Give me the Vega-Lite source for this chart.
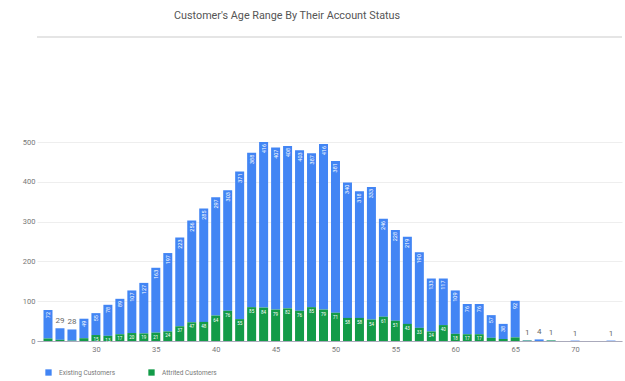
{
  "$schema": "https://vega.github.io/schema/vega-lite/v6.json",
  "autosize": "none",
  "width": 585,
  "height": 199,
  "padding": {"left": 37, "top": 142, "right": 3, "bottom": 40},
  "background": "white",
  "config": {
    "view": {"stroke": null},
    "font": "Roboto",
    "axis": {"labelFont": "Roboto", "labelColor": "#777", "labelFontSize": 7.5, "ticks": false},
    "axisY": {"title": null, "values": [0, 100, 200, 300, 400, 500], "domain": false, "grid": true, "gridColor": "#eeeeee", "labelPadding": 2, "labelOverlap": false}
  },
  "title": {
    "text": "Customer's Age Range By Their Account Status",
    "anchor": "start",
    "frame": "group",
    "dx": 137,
    "offset": 16,
    "fontSize": 10.8,
    "fontWeight": "normal",
    "color": "#555",
    "font": "Roboto"
  },
  "data": {
    "values": [
      {"age": 26, "status": "Existing Customers", "count": 72}, {"age": 26, "status": "Attrited Customers", "count": 6},
      {"age": 27, "status": "Existing Customers", "count": 29}, {"age": 27, "status": "Attrited Customers", "count": 3},
      {"age": 28, "status": "Existing Customers", "count": 28}, {"age": 28, "status": "Attrited Customers", "count": 1},
      {"age": 29, "status": "Existing Customers", "count": 49}, {"age": 29, "status": "Attrited Customers", "count": 7},
      {"age": 30, "status": "Existing Customers", "count": 55}, {"age": 30, "status": "Attrited Customers", "count": 15},
      {"age": 31, "status": "Existing Customers", "count": 78}, {"age": 31, "status": "Attrited Customers", "count": 13},
      {"age": 32, "status": "Existing Customers", "count": 89}, {"age": 32, "status": "Attrited Customers", "count": 17},
      {"age": 33, "status": "Existing Customers", "count": 107}, {"age": 33, "status": "Attrited Customers", "count": 20},
      {"age": 34, "status": "Existing Customers", "count": 127}, {"age": 34, "status": "Attrited Customers", "count": 19},
      {"age": 35, "status": "Existing Customers", "count": 163}, {"age": 35, "status": "Attrited Customers", "count": 21},
      {"age": 36, "status": "Existing Customers", "count": 197}, {"age": 36, "status": "Attrited Customers", "count": 24},
      {"age": 37, "status": "Existing Customers", "count": 223}, {"age": 37, "status": "Attrited Customers", "count": 37},
      {"age": 38, "status": "Existing Customers", "count": 256}, {"age": 38, "status": "Attrited Customers", "count": 47},
      {"age": 39, "status": "Existing Customers", "count": 285}, {"age": 39, "status": "Attrited Customers", "count": 48},
      {"age": 40, "status": "Existing Customers", "count": 297}, {"age": 40, "status": "Attrited Customers", "count": 64},
      {"age": 41, "status": "Existing Customers", "count": 303}, {"age": 41, "status": "Attrited Customers", "count": 76},
      {"age": 42, "status": "Existing Customers", "count": 371}, {"age": 42, "status": "Attrited Customers", "count": 55},
      {"age": 43, "status": "Existing Customers", "count": 388}, {"age": 43, "status": "Attrited Customers", "count": 85},
      {"age": 44, "status": "Existing Customers", "count": 416}, {"age": 44, "status": "Attrited Customers", "count": 84},
      {"age": 45, "status": "Existing Customers", "count": 407}, {"age": 45, "status": "Attrited Customers", "count": 79},
      {"age": 46, "status": "Existing Customers", "count": 408}, {"age": 46, "status": "Attrited Customers", "count": 82},
      {"age": 47, "status": "Existing Customers", "count": 403}, {"age": 47, "status": "Attrited Customers", "count": 76},
      {"age": 48, "status": "Existing Customers", "count": 387}, {"age": 48, "status": "Attrited Customers", "count": 85},
      {"age": 49, "status": "Existing Customers", "count": 416}, {"age": 49, "status": "Attrited Customers", "count": 79},
      {"age": 50, "status": "Existing Customers", "count": 381}, {"age": 50, "status": "Attrited Customers", "count": 71},
      {"age": 51, "status": "Existing Customers", "count": 340}, {"age": 51, "status": "Attrited Customers", "count": 58},
      {"age": 52, "status": "Existing Customers", "count": 318}, {"age": 52, "status": "Attrited Customers", "count": 58},
      {"age": 53, "status": "Existing Customers", "count": 333}, {"age": 53, "status": "Attrited Customers", "count": 54},
      {"age": 54, "status": "Existing Customers", "count": 246}, {"age": 54, "status": "Attrited Customers", "count": 61},
      {"age": 55, "status": "Existing Customers", "count": 228}, {"age": 55, "status": "Attrited Customers", "count": 51},
      {"age": 56, "status": "Existing Customers", "count": 219}, {"age": 56, "status": "Attrited Customers", "count": 43},
      {"age": 57, "status": "Existing Customers", "count": 190}, {"age": 57, "status": "Attrited Customers", "count": 33},
      {"age": 58, "status": "Existing Customers", "count": 133}, {"age": 58, "status": "Attrited Customers", "count": 24},
      {"age": 59, "status": "Existing Customers", "count": 117}, {"age": 59, "status": "Attrited Customers", "count": 40},
      {"age": 60, "status": "Existing Customers", "count": 109}, {"age": 60, "status": "Attrited Customers", "count": 18},
      {"age": 61, "status": "Existing Customers", "count": 76}, {"age": 61, "status": "Attrited Customers", "count": 17},
      {"age": 62, "status": "Existing Customers", "count": 76}, {"age": 62, "status": "Attrited Customers", "count": 17},
      {"age": 63, "status": "Existing Customers", "count": 57}, {"age": 63, "status": "Attrited Customers", "count": 8},
      {"age": 64, "status": "Existing Customers", "count": 38}, {"age": 64, "status": "Attrited Customers", "count": 5},
      {"age": 65, "status": "Existing Customers", "count": 92}, {"age": 65, "status": "Attrited Customers", "count": 9},
      {"age": 66, "status": "Existing Customers", "count": 1}, {"age": 66, "status": "Attrited Customers", "count": 1},
      {"age": 67, "status": "Existing Customers", "count": 4}, {"age": 67, "status": "Attrited Customers", "count": 0},
      {"age": 68, "status": "Existing Customers", "count": 1}, {"age": 68, "status": "Attrited Customers", "count": 1},
      {"age": 70, "status": "Existing Customers", "count": 1}, {"age": 70, "status": "Attrited Customers", "count": 0},
      {"age": 73, "status": "Existing Customers", "count": 1}, {"age": 73, "status": "Attrited Customers", "count": 0}
    ]
  },
  "transform": [
    {"stack": "count", "groupby": ["age"], "sort": [{"field": "status", "order": "ascending"}], "as": ["y0", "y1"]}
  ],
  "layer": [
    {
      "mark": {"type": "bar", "size": 9},
      "encoding": {
        "x": {
          "field": "age", "type": "quantitative",
          "scale": {"domain": [25.5, 73.5], "nice": false, "zero": false},
          "axis": {"title": null, "values": [30, 35, 40, 45, 50, 55, 60, 65, 70], "grid": false, "domainColor": "#aab", "labelPadding": 4}
        },
        "y": {
          "field": "y1", "type": "quantitative",
          "scale": {"domain": [0, 500], "nice": false}
        },
        "y2": {"field": "y0"},
        "color": {
          "field": "status", "type": "nominal",
          "scale": {"domain": ["Existing Customers", "Attrited Customers"], "range": ["#4285f4", "#139b48"]},
          "legend": {
            "title": null, "orient": "none", "direction": "horizontal",
            "legendX": 8, "legendY": 227,
            "symbolType": "square", "symbolSize": 40, "symbolStrokeWidth": 0,
            "labelFontSize": 6.5, "labelColor": "#777", "labelFont": "Roboto",
            "columnPadding": 32, "labelOffset": 7
          }
        }
      }
    },
    {
      "mark": {"type": "rule", "color": "#e6e6e6", "strokeWidth": 1, "clip": false},
      "encoding": {"y": {"datum": 764}}
    },
    {
      "transform": [{"filter": "datum.status === 'Existing Customers' && datum.count >= 35"}],
      "mark": {"type": "text", "angle": 270, "align": "right", "baseline": "middle", "dx": -2, "fontSize": 5.5, "color": "white"},
      "encoding": {
        "x": {"field": "age", "type": "quantitative"},
        "y": {"field": "y1", "type": "quantitative"},
        "text": {"field": "count", "type": "quantitative"}
      }
    },
    {
      "transform": [{"filter": "datum.status === 'Existing Customers' && datum.count < 35"}],
      "mark": {"type": "text", "baseline": "bottom", "dy": -3, "fontSize": 8, "color": "#666"},
      "encoding": {
        "x": {"field": "age", "type": "quantitative"},
        "y": {"field": "y1", "type": "quantitative"},
        "text": {"field": "count", "type": "quantitative"}
      }
    },
    {
      "transform": [{"filter": "datum.status === 'Attrited Customers' && datum.count >= 10"}],
      "mark": {"type": "text", "baseline": "top", "dy": 2, "fontSize": 4.5, "color": "white"},
      "encoding": {
        "x": {"field": "age", "type": "quantitative"},
        "y": {"field": "y1", "type": "quantitative"},
        "text": {"field": "count", "type": "quantitative"}
      }
    }
  ]
}
